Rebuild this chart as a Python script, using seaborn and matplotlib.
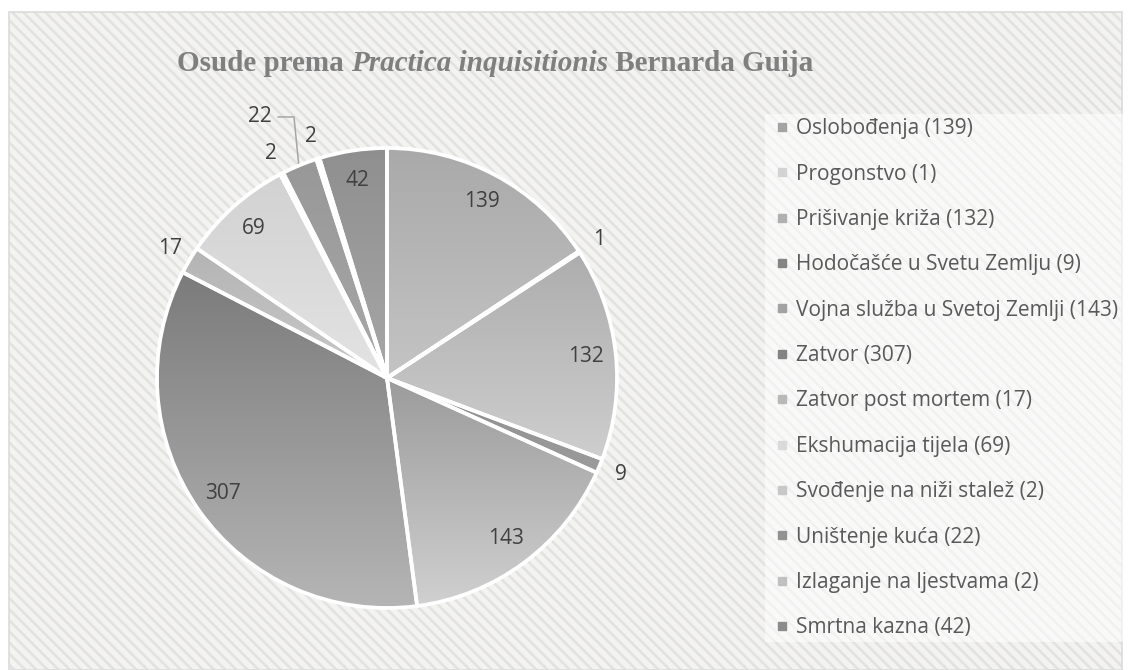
import numpy as np
import matplotlib
matplotlib.use("Agg")
import matplotlib.pyplot as plt
import seaborn as sns
from matplotlib.colors import LinearSegmentedColormap
from matplotlib.lines import Line2D
from matplotlib.patches import Rectangle

sns.set_theme(style="white")
plt.rcParams["font.family"] = ["Open Sans", "DejaVu Sans"]
plt.rcParams["hatch.color"] = "#e3e2e0"
plt.rcParams["hatch.linewidth"] = 1.9

# data
categories = ["Oslobođenja", "Progonstvo", "Prišivanje križa", "Hodočašće u Svetu Zemlju",
              "Vojna služba u Svetoj Zemlji", "Zatvor", "Zatvor post mortem",
              "Ekshumacija tijela", "Svođenje na niži stalež", "Uništenje kuća",
              "Izlaganje na ljestvama", "Smrtna kazna"]
counts = [139, 1, 132, 9, 143, 307, 17, 69, 2, 22, 2, 42]
inside = [True, False, True, False, True, True, False, True, False, False, False, True]

# gradient colours per slice (top, bottom) and legend swatch colours
grad_top = ["#a9a9a9", "#cfcfcf", "#adadad", "#8e8e8e", "#9b9b9b", "#7b7b7b",
            "#b4b4b4", "#d2d2d2", "#c4c4c4", "#989898", "#bdbdbd", "#8f8f8f"]
grad_bot = ["#c4c4c4", "#d9d9d9", "#cecece", "#9c9c9c", "#d0d0d0", "#b5b5b5",
            "#c9c9c9", "#e3e3e3", "#cdcdcd", "#a8a8a8", "#c9c9c9", "#a7a7a7"]
swatch = ["#a3a3a3", "#d3d3d3", "#b0b0b0", "#848484", "#a2a2a2", "#838383",
          "#b9b9b9", "#dadada", "#c8c8c8", "#929292", "#c0c0c0", "#8c8c8c"]

fig = plt.figure(figsize=(11.31, 6.70), dpi=100)
fig.patch.set_facecolor("white")

# striped chart background
bg = Rectangle((9 / 1131, 0), 1113 / 1131, 658 / 670, transform=fig.transFigure,
               facecolor="#f3f3f2", edgecolor="#e3e2e0", hatch="\\\\\\", lw=0, zorder=-2)
fig.patches.append(bg)
border = Rectangle((9 / 1131, 0), 1113 / 1131, 658 / 670, transform=fig.transFigure,
                   facecolor="none", edgecolor="#dcdcdc", lw=1.2, zorder=-1)
fig.patches.append(border)

ax = fig.add_axes([111 / 1131, 16 / 670, 552 / 1131, 552 / 670])
ax.set_facecolor("none")
ax.set_zorder(1)

wedges, _ = ax.pie(counts, startangle=90, counterclock=False, radius=1,
                   colors=swatch,
                   wedgeprops=dict(edgecolor="white", linewidth=2.7, zorder=3))

for w, c0, c1 in zip(wedges, grad_top, grad_bot):
    ext = w.get_path().get_extents()
    cmap = LinearSegmentedColormap.from_list("g", [c0, c1])
    im = ax.imshow(np.linspace(0, 1, 256).reshape(-1, 1), cmap=cmap, aspect="auto",
                   extent=[ext.x0, ext.x1, ext.y0, ext.y1], origin="upper",
                   zorder=2, interpolation="bilinear")
    im.set_clip_path(w)
    w.set_facecolor("none")

ax.set_xlim(-1.2, 1.2)
ax.set_ylim(-1.2, 1.2)
ax.set_aspect("equal")
ax.axis("off")

# data labels
lab_color = "#404040"
lab_size = 15
for i, (w, v) in enumerate(zip(wedges, counts)):
    mid = np.deg2rad((w.theta1 + w.theta2) / 2)
    if categories[i] == "Uništenje kuća":
        tip = (np.cos(mid) * 1.01, np.sin(mid) * 1.01)
        ty = 1.135
        ax.plot([tip[0], tip[0] - 0.02, tip[0] - 0.09], [tip[1], ty, ty],
                color="#a6a6a6", lw=1.1, zorder=4, clip_on=False)
        ax.text(tip[0] - 0.115, ty, str(v), ha="right", va="center",
                fontsize=lab_size, color=lab_color, zorder=5)
        continue
    r = 0.87 if inside[i] else 1.10
    ax.text(np.cos(mid) * r, np.sin(mid) * r, str(v), ha="center", va="center",
            fontsize=lab_size, color=lab_color, zorder=5)

# legend
handles = [Line2D([], [], marker="s", linestyle="none", markersize=5.5,
                  markerfacecolor=c, markeredgecolor=c) for c in swatch]
labels = [f"{c} ({v})" for c, v in zip(categories, counts)]
leg = fig.legend(handles, labels, loc="upper left", bbox_to_anchor=(765 / 1131, 1 - 114 / 670),
                 frameon=True, fontsize=15, labelspacing=1.17, handlelength=1.25,
                 handletextpad=0.05, borderpad=0.2, borderaxespad=0, labelcolor="#595959")
leg.get_frame().set_facecolor("white")
leg.get_frame().set_alpha(0.55)
leg.get_frame().set_edgecolor("none")
leg.get_frame().set_boxstyle("square", pad=0)

# title with italic part
renderer = fig.canvas.get_renderer()
parts = [("Osude prema ", "normal"), ("Practica inquisitionis", "italic"), (" Bernarda Guija", "normal")]
texts = []
for s, st in parts:
    t = fig.text(0, 1 - 71 / 670, s, fontsize=21, fontweight="bold", style=st,
                 family="Liberation Serif", color="#7f7f7f", va="baseline", ha="left")
    texts.append(t)
widths = [t.get_window_extent(renderer).width for t in texts]
x = 495 - sum(widths) / 2
for t, wd in zip(texts, widths):
    t.set_x(x / 1131)
    x += wd

fig.savefig("out.png", dpi=100, facecolor=fig.get_facecolor())
